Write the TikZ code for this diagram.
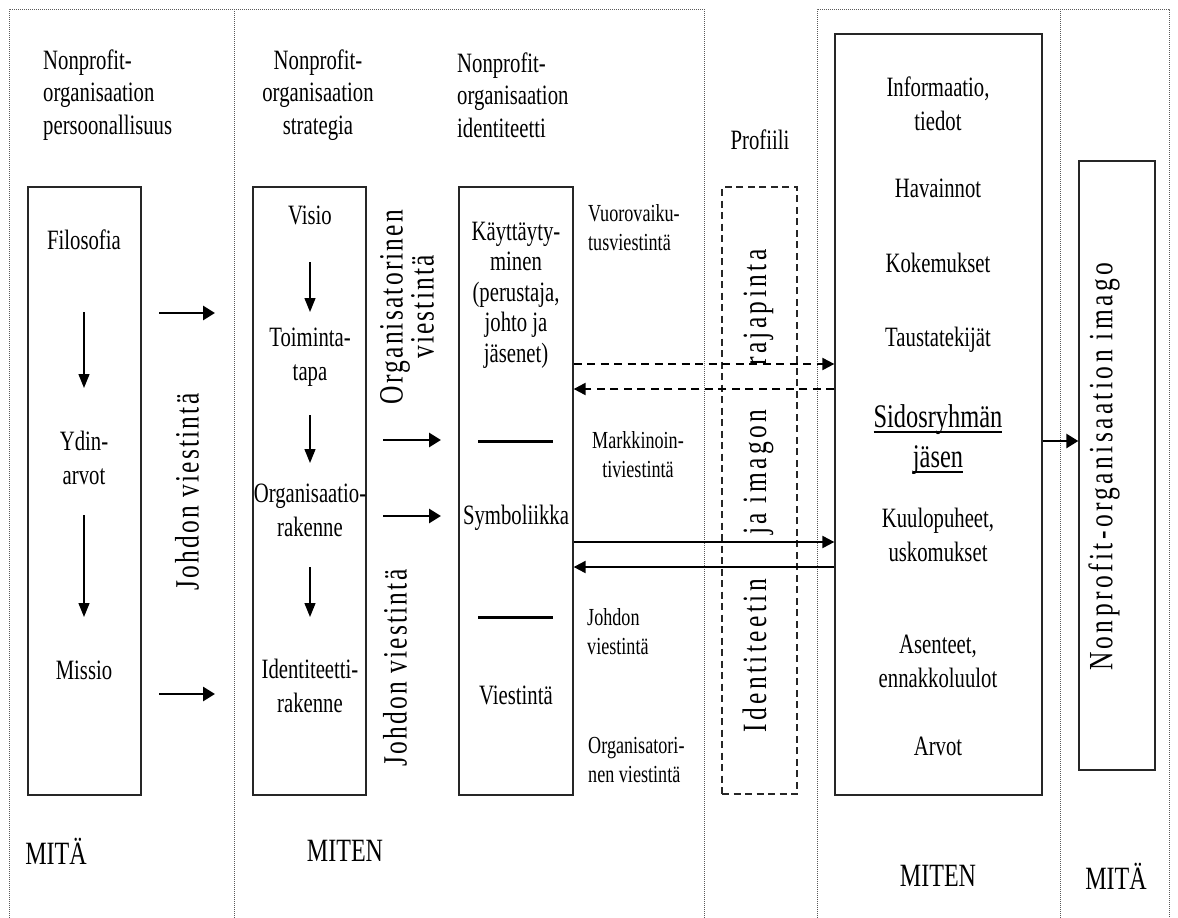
\documentclass[tikz,border=0pt]{standalone}
\usepackage{fontspec}
\setmainfont{Liberation Serif}[FakeStretch=0.74]
\newfontfamily\rotfont{Liberation Serif}[FakeStretch=0.75]
\usetikzlibrary{arrows.meta, calc}

\newlength\ulwd
\newcommand{\lineunder}[1]{\settowidth{\ulwd}{#1}%
  \makebox[0pt][l]{\rule[-5pt]{\ulwd}{1.8pt}}#1}

\begin{document}
\begin{tikzpicture}[x=1pt, y=-1pt,
  frame/.style={draw=black!65, line width=0.8pt, dash pattern=on 1pt off 1pt},
  box/.style={draw=black!85, line width=1.3pt, inner sep=0pt},
  txt/.style={font=\fontsize{28}{34}\selectfont, align=center, inner sep=0pt},
  head/.style={font=\fontsize{28}{32.5}\selectfont, inner sep=0pt},
  small/.style={font=\fontsize{24.5}{29}\selectfont, inner sep=0pt},
  big/.style={font=\fontsize{32.5}{38}\selectfont, inner sep=0pt},
  rot/.style={rotate=90, inner sep=0pt,
    font=\rotfont\fontsize{34}{28}\selectfont\addfontfeature{LetterSpace=6.4}},
  widerot/.style={rotate=90, inner sep=0pt,
    font=\rotfont\fontsize{34}{38}\selectfont\addfontfeature{LetterSpace=10}},
  flow/.style={line width=1.3pt, -{Triangle[length=14pt, width=11pt]}},
  push/.style={line width=2.8pt, -{Triangle[length=12pt, width=14pt]}},
  link/.style={line width=2.2pt, -{Triangle[length=12pt, width=12pt]}}]

  \useasboundingbox (0,0) rectangle (1178,918);

  % --- Dotted frames ---
  \draw[frame] (9,918) -- (9,9) -- (704,9) -- (704,918);
  \draw[frame] (234,9) -- (234,918);
  \draw[frame] (817,918) -- (817,9) -- (1169,9) -- (1169,918);
  \draw[frame] (1060,9) -- (1060,918);

  % --- Column headers ---
  \node[head, align=left, anchor=west] (hpers) at (43,95)
    {Nonprofit-\\organisaation\\persoonallisuus};
  \node[head, align=center] (hstrat) at (318,95)
    {Nonprofit-\\organisaation\\strategia};
  \node[head, align=left, anchor=west] (hident) at (457,95)
    {Nonprofit-\\organisaation\\identiteetti};
  \node[head] (profiili) at (760,140) {Profiili};

  % --- Boxes ---
  \node[box, minimum width=113pt, minimum height=608pt] (pers) at (84.5,491) {};
  \node[box, minimum width=113pt, minimum height=608pt] (strat) at (309.5,491) {};
  \node[box, minimum width=114pt, minimum height=608pt] (ident) at (516,491) {};
  \node[box, dash pattern=on 7pt off 4.5pt, minimum width=75pt,
    minimum height=607pt] (profile) at (759.5,490.5) {};
  \node[box, minimum width=207pt, minimum height=761pt] (member) at (938.5,414.5) {};
  \node[box, minimum width=76pt, minimum height=609pt] (imagebox) at (1117,465.5) {};

  % --- Persoonallisuus ---
  \node[txt] (filo) at (84,240) {Filosofia};
  \node[txt] (ydin) at (84,458) {Ydin-\\arvot};
  \node[txt] (missio) at (84,670) {Missio};

  % --- Strategia ---
  \node[txt] (visio) at (310,215) {Visio};
  \node[txt] (toim) at (310,357) {Toiminta-\\tapa};
  \node[txt] (orgrak) at (310,510) {Organisaatio-\\rakenne};
  \node[txt] (idrak) at (310,686) {Identiteetti-\\rakenne};

  % --- Identiteetti ---
  \node[txt, font=\fontsize{28}{30.5}\selectfont] (kayt) at (516,295)
    {Käyttäyty-\\minen\\(perustaja,\\johto ja\\jäsenet)};
  \node[txt] (symb) at (516,518) {Symboliikka};
  \node[txt] (viest) at (516,695) {Viestintä};
  \draw[line width=3pt] (478,441) -- (553,441);
  \draw[line width=3pt] (478,617) -- (553,617);

  % --- Channel labels ---
  \node[small, align=left, anchor=west] (vuoro) at (588,228)
    {Vuorovaiku-\\tusviestintä};
  \node[small, align=center] (markk) at (638,455) {Markkinoin-\\tiviestintä};
  \node[small, align=left, anchor=west] (johdl) at (587,632) {Johdon\\viestintä};
  \node[small, align=left, anchor=west] (orgl) at (588,760)
    {Organisatori-\\nen viestintä};

  % --- Rotated labels ---
  \node[rot] (johd1) at (187,492) {Johdon viestintä};
  \node[rot, align=center] (orgv) at (407,307) {Organisatorinen\\viestintä};
  \node[rot] (johd2) at (395,668) {Johdon viestintä};
  \node[widerot] (raja) at (758,491)
    {Identiteetin\hspace{44pt}ja imagon\hspace{44pt}rajapinta};
  \node[widerot] (imago) at (1104,467) {Nonprofit-organisaation imago};

  % --- Sidosryhmän jäsen ---
  \node[txt] (info) at (938,104) {Informaatio,\\tiedot};
  \node[txt] (hav) at (938,188) {Havainnot};
  \node[txt] (kok) at (938,263) {Kokemukset};
  \node[txt] (taus) at (938,340) {Taustatekijät};
  \node[txt, font=\fontsize{33}{40}\selectfont] (sidos) at (938,440)
    {\lineunder{Sidosryhmän}\\\lineunder{jäsen}};
  \node[txt] (kuulo) at (938,535) {Kuulopuheet,\\uskomukset};
  \node[txt] (asen) at (938,661) {Asenteet,\\ennakkoluulot};
  \node[txt] (arvot) at (938,746) {Arvot};

  % --- Bottom labels ---
  \node[big] (mita1) at (56,851) {MITÄ};
  \node[big] (miten1) at (345,851) {MITEN};
  \node[big] (miten2) at (938,876) {MITEN};
  \node[big] (mita2) at (1116,876) {MITÄ};

  % --- Arrows inside the boxes ---
  \foreach \n/\x/\ya/\yb in {p1/84/312/388, p2/84/515/617,
      s1/310/262/312, s2/310/415/463, s3/310/567/617}{
    \coordinate (\n a) at (\x,\ya);
    \coordinate (\n b) at (\x,\yb);
    \draw[flow] (\n a) -- (\n b);
  }

  % --- Arrows between the boxes ---
  \foreach \n/\xa/\xb/\y in {h1/159/215/313, h2/159/215/694,
      h3/383/441/440, h4/383/441/516}{
    \coordinate (\n a) at (\xa,\y);
    \coordinate (\n b) at (\xb,\y);
    \draw[push] (\n a) -- (\n b);
  }

  % --- Identity <-> member ---
  \draw[link, dash pattern=on 8pt off 5.5pt]
    (ident.east |- 0,364) -- (member.west |- 0,364);
  \draw[link, dash pattern=on 8pt off 5.5pt]
    (member.west |- 0,389) -- (ident.east |- 0,389);
  \draw[link] (ident.east |- 0,542) -- (member.west |- 0,542);
  \draw[link] (member.west |- 0,567) -- (ident.east |- 0,567);

  % --- Member -> image ---
  \draw[push, line width=2.5pt] (member.east |- 0,441) -- (imagebox.west |- 0,441);

\end{tikzpicture}
\end{document}
